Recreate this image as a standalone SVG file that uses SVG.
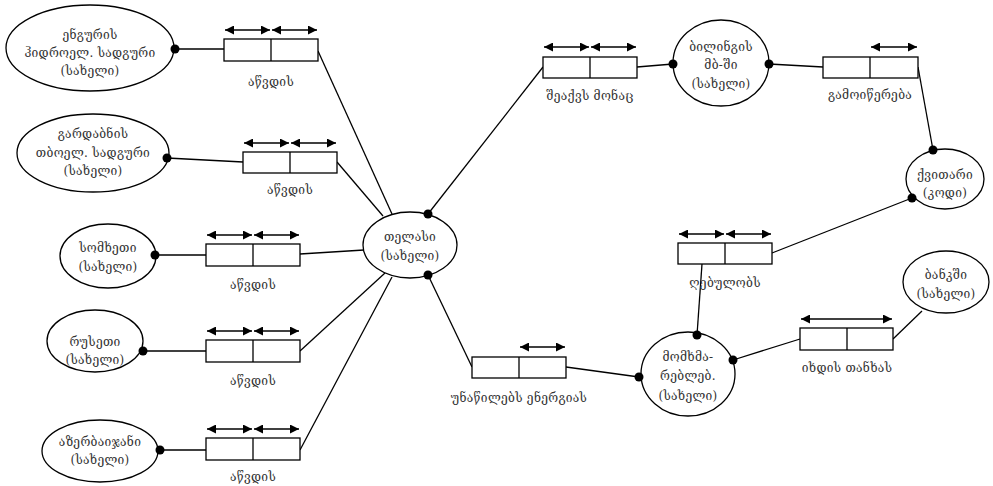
<svg xmlns="http://www.w3.org/2000/svg" width="993" height="486" viewBox="0 0 993 486">
<defs>
<marker id="ah" viewBox="0 0 10 10" refX="10" refY="5" markerWidth="9" markerHeight="9" markerUnits="userSpaceOnUse" orient="auto-start-reverse">
<path d="M0,0 L10,5 L0,10 z" fill="#000"/>
</marker>
<style>
.el{fill:#fff;stroke:#000;stroke-width:1.3}
.bx{fill:#fff;stroke:#000;stroke-width:1.3}
.ln{stroke:#000;stroke-width:1.3;fill:none}
.ar{stroke:#000;stroke-width:1.5;fill:none;marker-start:url(#ah);marker-end:url(#ah)}
.dot{fill:#000}
text{font-family:"DejaVu Serif","DejaVu Sans",serif;font-size:12px;fill:#333;text-anchor:middle;letter-spacing:0.3px}
</style>
</defs>
<rect width="993" height="486" fill="#fff"/>
<g id="connectors">
<line class="ln" x1="175" y1="49" x2="224" y2="49"/>
<line class="ln" x1="318" y1="51" x2="392" y2="214"/>
<line class="ln" x1="167" y1="158" x2="243" y2="162"/>
<line class="ln" x1="337" y1="162" x2="383" y2="216"/>
<line class="ln" x1="155" y1="255" x2="206" y2="255"/>
<line class="ln" x1="300" y1="254" x2="364" y2="250"/>
<line class="ln" x1="143" y1="351" x2="206" y2="351"/>
<line class="ln" x1="300" y1="351" x2="385" y2="273"/>
<line class="ln" x1="160" y1="450" x2="206" y2="450"/>
<line class="ln" x1="300" y1="450" x2="392" y2="277"/>
<line class="ln" x1="428" y1="214" x2="543" y2="67"/>
<line class="ln" x1="637" y1="67" x2="673" y2="64"/>
<line class="ln" x1="769" y1="64" x2="823" y2="67"/>
<line class="ln" x1="918" y1="67" x2="933" y2="150"/>
<line class="ln" x1="912" y1="198" x2="772" y2="253"/>
<line class="ln" x1="702" y1="264" x2="697" y2="335"/>
<line class="ln" x1="428" y1="275" x2="472" y2="367"/>
<line class="ln" x1="566" y1="367" x2="639" y2="377"/>
<line class="ln" x1="733" y1="360" x2="800" y2="339"/>
<line class="ln" x1="893" y1="339" x2="922" y2="311"/>
</g>
<g id="n-enguri">
<ellipse class="el" cx="90" cy="48" rx="84" ry="43"/>
<text x="90" y="39">ენგურის</text>
<text x="90" y="57">ჰიდროელ. სადგური</text>
<text x="90" y="75">(სახელი)</text>
</g>
<g id="n-gardabani">
<ellipse class="el" cx="93" cy="153" rx="76" ry="39"/>
<text x="93" y="138">გარდაბნის</text>
<text x="93" y="157">თბოელ. სადგური</text>
<text x="93" y="175">(სახელი)</text>
</g>
<g id="n-armenia">
<ellipse class="el" cx="108" cy="256" rx="48" ry="32"/>
<text x="108" y="252">სომხეთი</text>
<text x="108" y="271">(სახელი)</text>
</g>
<g id="n-russia">
<ellipse class="el" cx="95" cy="341" rx="48" ry="31"/>
<text x="95" y="346">რუსეთი</text>
<text x="95" y="364">(სახელი)</text>
</g>
<g id="n-azerbaijan">
<ellipse class="el" cx="100" cy="451" rx="58" ry="31"/>
<text x="100" y="446">აზერბაიჯანი</text>
<text x="100" y="464">(სახელი)</text>
</g>
<g id="n-telasi">
<ellipse class="el" cx="410" cy="245" rx="47" ry="33"/>
<text x="410" y="241">თელასი</text>
<text x="410" y="260">(სახელი)</text>
</g>
<g id="n-billing">
<ellipse class="el" cx="721" cy="63" rx="48" ry="43"/>
<text x="721" y="51">ბილინგის</text>
<text x="721" y="69">მბ-ში</text>
<text x="721" y="88">(სახელი)</text>
</g>
<g id="n-receipt">
<ellipse class="el" cx="945" cy="179" rx="39" ry="30"/>
<text x="945" y="179">ქვითარი</text>
<text x="945" y="197">(კოდი)</text>
</g>
<g id="n-consumers">
<ellipse class="el" cx="688" cy="374" rx="47" ry="42"/>
<text x="688" y="361">მომხმა-</text>
<text x="688" y="380">რებლებ.</text>
<text x="688" y="400">(სახელი)</text>
</g>
<g id="n-bank">
<ellipse class="el" cx="946" cy="282" rx="43" ry="31"/>
<text x="946" y="279">ბანკში</text>
<text x="946" y="298">(სახელი)</text>
</g>
<g id="r-enguri">
<rect class="bx" x="224" y="39" width="94" height="22"/>
<line class="ln" x1="271" y1="39" x2="271" y2="61"/>
<line class="ar" x1="225" y1="30" x2="270" y2="30"/>
<line class="ar" x1="272" y1="30" x2="317" y2="30"/>
<text x="271" y="86">აწვდის</text>
</g>
<g id="r-gardabani">
<rect class="bx" x="243" y="152" width="94" height="21"/>
<line class="ln" x1="290" y1="152" x2="290" y2="173"/>
<line class="ar" x1="244" y1="143" x2="289" y2="143"/>
<line class="ar" x1="291" y1="143" x2="336" y2="143"/>
<text x="290" y="194">აწვდის</text>
</g>
<g id="r-armenia">
<rect class="bx" x="206" y="244" width="94" height="22"/>
<line class="ln" x1="253" y1="244" x2="253" y2="266"/>
<line class="ar" x1="207" y1="235" x2="252" y2="235"/>
<line class="ar" x1="254" y1="235" x2="299" y2="235"/>
<text x="253" y="289">აწვდის</text>
</g>
<g id="r-russia">
<rect class="bx" x="206" y="340" width="94" height="22"/>
<line class="ln" x1="253" y1="340" x2="253" y2="362"/>
<line class="ar" x1="207" y1="331" x2="252" y2="331"/>
<line class="ar" x1="254" y1="331" x2="299" y2="331"/>
<text x="253" y="385">აწვდის</text>
</g>
<g id="r-azerbaijan">
<rect class="bx" x="206" y="438" width="94" height="22"/>
<line class="ln" x1="253" y1="438" x2="253" y2="460"/>
<line class="ar" x1="207" y1="429" x2="252" y2="429"/>
<line class="ar" x1="254" y1="429" x2="299" y2="429"/>
<text x="253" y="481">აწვდის</text>
</g>
<g id="r-brings">
<rect class="bx" x="543" y="57" width="94" height="21"/>
<line class="ln" x1="590" y1="57" x2="590" y2="78"/>
<line class="ar" x1="544" y1="47" x2="589" y2="47"/>
<line class="ar" x1="591" y1="47" x2="636" y2="47"/>
<text x="590" y="100">შეაქვს მონაც</text>
</g>
<g id="r-issued">
<rect class="bx" x="823" y="57" width="95" height="21"/>
<line class="ln" x1="870" y1="57" x2="870" y2="78"/>
<line class="ar" x1="871" y1="47" x2="917" y2="47"/>
<text x="870" y="99">გამოიწერება</text>
</g>
<g id="r-receives">
<rect class="bx" x="678" y="243" width="94" height="21"/>
<line class="ln" x1="725" y1="243" x2="725" y2="264"/>
<line class="ar" x1="679" y1="234" x2="724" y2="234"/>
<line class="ar" x1="726" y1="234" x2="771" y2="234"/>
<text x="725" y="287">ღებულობს</text>
</g>
<g id="r-distributes">
<rect class="bx" x="472" y="357" width="94" height="21"/>
<line class="ln" x1="519" y1="357" x2="519" y2="378"/>
<line class="ar" x1="520" y1="347" x2="565" y2="347"/>
<text x="519" y="402">უნაწილებს ენერგიას</text>
</g>
<g id="r-pays">
<rect class="bx" x="800" y="328" width="93" height="22"/>
<line class="ln" x1="847" y1="328" x2="847" y2="350"/>
<line class="ar" x1="801" y1="319" x2="892" y2="319"/>
<text x="847" y="372">იხდის თანხას</text>
</g>
<g id="dots">
<circle class="dot" cx="175" cy="49" r="4.5"/>
<circle class="dot" cx="167" cy="158" r="4.5"/>
<circle class="dot" cx="155" cy="255" r="4.5"/>
<circle class="dot" cx="143" cy="351" r="4.5"/>
<circle class="dot" cx="160" cy="450" r="4.5"/>
<circle class="dot" cx="428" cy="214" r="4.5"/>
<circle class="dot" cx="428" cy="275" r="4.5"/>
<circle class="dot" cx="673" cy="64" r="4.5"/>
<circle class="dot" cx="769" cy="64" r="4.5"/>
<circle class="dot" cx="933" cy="150" r="4.5"/>
<circle class="dot" cx="912" cy="198" r="4.5"/>
<circle class="dot" cx="697" cy="335" r="4.5"/>
<circle class="dot" cx="639" cy="377" r="4.5"/>
<circle class="dot" cx="733" cy="360" r="4.5"/>
</g>
</svg>
